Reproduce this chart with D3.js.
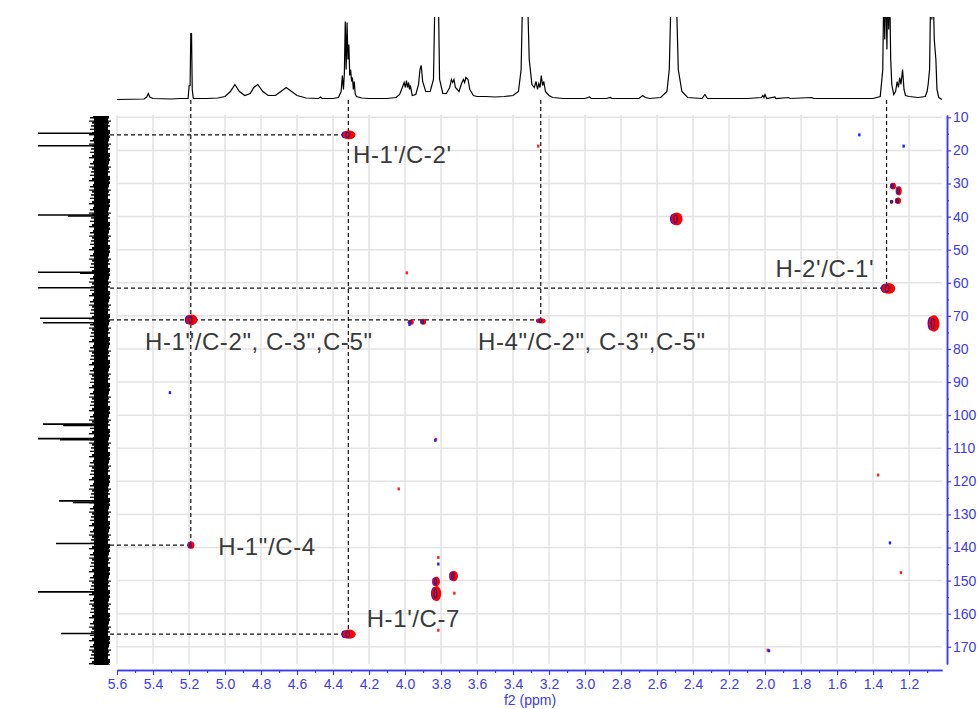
<!DOCTYPE html>
<html>
<head>
<meta charset="utf-8">
<script src="https://cdn.jsdelivr.net/npm/d3@7"></script>
<style>
  html, body { margin: 0; padding: 0; background: #fff; }
  svg { display: block; font-family: 'Liberation Sans', Arial, sans-serif; }
</style>
</head>
<body>
<div id="chart"></div>
<script>
// HMBC 2D spectrum: f2 = 1H (ppm), f1 = 13C (ppm)

// 1H projection, vertices: [ppm, height]
const protonTrace = [
  [5.60, 0], [5.45, 0.5], [5.435, 2.5], [5.426, 6], [5.418, 2.5], [5.40, 1], [5.30, 0.5], [5.25, 1],
  [5.205, 1], [5.199, 14], [5.194, 14], [5.190, 66], [5.186, 66], [5.182, 10], [5.176, 1],
  [5.10, 1], [5.04, 1.5], [5.00, 3], [4.97, 8], [4.945, 15], [4.92, 8], [4.89, 4], [4.86, 6],
  [4.84, 12], [4.818, 15], [4.79, 8], [4.76, 4], [4.72, 4], [4.69, 8], [4.66, 12], [4.63, 8],
  [4.60, 4], [4.55, 1.5], [4.48, 1], [4.47, 2.5], [4.46, 1], [4.40, 1], [4.37, 2],
  [4.355, 8], [4.348, 24], [4.342, 10], [4.337, 26], [4.332, 78], [4.327, 30], [4.322, 77],
  [4.317, 40], [4.312, 55], [4.307, 24], [4.302, 30], [4.297, 18], [4.292, 22], [4.287, 10],
  [4.282, 18], [4.277, 6], [4.27, 3], [4.24, 1.5], [4.20, 1], [4.10, 1], [4.05, 2],
  [4.03, 5], [4.015, 12], [4.005, 17], [3.998, 12], [3.992, 19], [3.986, 12], [3.980, 17],
  [3.975, 10], [3.970, 14], [3.96, 4], [3.94, 5], [3.925, 15], [3.917, 30], [3.910, 34],
  [3.902, 18], [3.885, 8], [3.86, 8], [3.842, 20], [3.832, 120], [3.824, 90], [3.816, 120],
  [3.808, 20], [3.79, 6], [3.77, 6], [3.752, 12], [3.742, 20], [3.735, 17], [3.728, 20],
  [3.72, 12], [3.70, 8], [3.686, 16], [3.676, 20], [3.669, 17], [3.662, 22], [3.650, 20],
  [3.64, 10], [3.62, 4], [3.60, 3], [3.55, 3], [3.50, 2.5], [3.45, 3], [3.40, 4],
  [3.37, 8], [3.355, 30], [3.345, 120], [3.334, 100], [3.322, 120], [3.31, 40], [3.295, 15],
  [3.282, 12], [3.272, 18], [3.264, 10], [3.257, 16], [3.250, 12], [3.243, 24], [3.236, 14],
  [3.229, 18], [3.22, 8], [3.20, 4], [3.18, 2], [3.12, 1], [3.00, 1], [2.975, 2.5],
  [2.965, 1], [2.88, 1], [2.86, 2], [2.85, 1], [2.70, 1], [2.68, 4], [2.665, 2], [2.64, 1],
  [2.58, 2], [2.545, 8], [2.532, 30], [2.520, 120], [2.507, 100], [2.495, 120], [2.482, 30],
  [2.462, 8], [2.43, 2], [2.35, 1], [2.334, 5], [2.32, 1], [2.10, 1], [2.02, 2], [2.012, 4],
  [2.006, 2], [2.000, 5], [1.99, 1], [1.945, 2.5], [1.94, 1], [1.87, 2], [1.86, 1], [1.74, 2],
  [1.73, 1], [1.40, 1], [1.36, 3], [1.346, 30], [1.340, 120], [1.335, 60], [1.329, 120],
  [1.323, 50], [1.318, 120], [1.313, 70], [1.308, 120], [1.302, 40], [1.296, 15], [1.285, 5],
  [1.275, 8], [1.266, 18], [1.259, 12], [1.252, 22], [1.245, 15], [1.236, 30], [1.228, 10],
  [1.22, 4], [1.20, 3], [1.15, 2], [1.11, 3], [1.100, 8], [1.094, 15], [1.086, 30],
  [1.079, 120], [1.073, 80], [1.067, 120], [1.060, 60], [1.051, 40], [1.045, 10], [1.035, 2],
  [1.017, 0]
];

// 13C projection peaks (left trace): ppm and height
const carbonPpm = [14.8, 18.6, 39.5, 39.8, 56.8, 57.1, 61.5, 70.7, 72.1, 102.7, 103.1, 107.1, 107.4, 125.9, 126.4, 138.8, 153.4, 166.0];
const carbonInt = [70, 70, 70, 33, 70, 21, 70, 61, 58, 58, 38, 70, 41, 42, 28, 45, 70, 40];

// cross peaks: f2 (1H), f1 (13C), linewidths in ppm
const crossF2 = [4.315, 5.189, 2.494, 1.318, 1.065, 4.315, 3.828, 3.828, 3.731, 3.246, 3.969, 3.900, 5.190, 1.290, 1.258, 1.262, 1.297];
const crossF1 = [15.3, 71.2, 40.7, 61.7, 72.3, 166.2, 153.9, 150.3, 148.6, 71.5, 71.9, 71.8, 139.3, 30.8, 32.2, 35.2, 35.5];
const crossW2 = [0.080, 0.072, 0.072, 0.082, 0.068, 0.082, 0.058, 0.045, 0.050, 0.055, 0.035, 0.035, 0.040, 0.035, 0.035, 0.035, 0.020];
const crossW1 = [2.6, 3.2, 3.9, 3.3, 5.0, 2.8, 4.6, 3.0, 3.2, 1.6, 1.6, 1.8, 2.2, 2.0, 2.8, 2.0, 1.2];

// weak single-phase points: sign +1 red, -1 blue
const dotF2 = [3.26, 3.99, 1.476, 1.23, 5.306, 3.828, 3.832, 4.035, 3.815, 3.815, 3.815, 3.726, 1.372, 1.306, 1.245, 1.985, 1.978, 3.975];
const dotF1 = [18.7, 57.0, 15.3, 18.7, 93.2, 107.3, 107.6, 122.3, 143.0, 145.0, 165.0, 153.8, 118.1, 138.6, 147.6, 171.0, 171.2, 72.6];
const dotSign = [1, 1, -1, -1, -1, 1, -1, 1, 1, -1, 1, 1, 1, -1, 1, 1, -1, -1];

// correlation guides
const hGuideF1 = [15.3, 61.6, 71.2, 139.3, 166.2];
const hGuideF2 = [4.315, 1.318, 3.246, 5.190, 4.315];
const vGuideF2 = [5.190, 4.315, 3.246, 1.325];
const vGuideF1 = [139.3, 166.2, 71.5, 61.6];

// annotations
const labelText = ["H-1'/C-2'", "H-2'/C-1'", 'H-1"/C-2", C-3",C-5"', 'H-4"/C-2", C-3",C-5"', 'H-1"/C-4', "H-1'/C-7"];
const labelF2 = [4.289, 1.394, 5.444, 3.594, 5.037, 4.213];
const labelF1 = [23.9, 58.2, 80.3, 80.3, 142.3, 164.0];
const labelAnchor = ['start', 'end', 'start', 'start', 'start', 'start'];

const xMajor = d3.range(56, 11, -2).map(v => v / 10);
const xMinor = d3.range(55, 10, -2).map(v => v / 10);
const yMajor = d3.range(10, 171, 10);
const yMinor = d3.range(15, 176, 10);

const W = 979, H = 709;
const AX = '#3b3bf0';
const svg = d3.select('#chart').append('svg').attr('width', W).attr('height', H);

const x = d3.scaleLinear().domain([5.6, 1.017]).range([117, 942]);
const y = d3.scaleLinear().domain([9.3, 175.2]).range([115, 664]);
const plot = { l: 117, r: 942, t: 115, b: 664 };

// gridlines
svg.append('g').selectAll('line').data(xMajor).enter().append('line')
  .attr('x1', d => x(d)).attr('x2', d => x(d)).attr('y1', plot.t).attr('y2', plot.b)
  .attr('stroke', '#e3e3e3').attr('stroke-width', 1.5);
svg.append('g').selectAll('line').data(yMajor).enter().append('line')
  .attr('y1', d => y(d)).attr('y2', d => y(d)).attr('x1', plot.l).attr('x2', plot.r)
  .attr('stroke', '#e3e3e3').attr('stroke-width', 1.5);

// axes
function styleAxis(g) {
  g.selectAll('path.domain').attr('stroke', AX).attr('stroke-width', 1.5);
  g.selectAll('line').attr('stroke', AX).attr('stroke-width', 1.2);
  g.selectAll('text').attr('fill', AX).style('font-size', '14px')
    .style('font-family', "'Liberation Sans', Arial, sans-serif");
}
const gx = svg.append('g').attr('transform', 'translate(0,670)')
  .call(d3.axisBottom(x).tickValues(xMajor).tickFormat(d3.format('.1f')).tickSize(5).tickSizeOuter(0).tickPadding(4));
styleAxis(gx);
const gxm = svg.append('g').attr('transform', 'translate(0,670)')
  .call(d3.axisBottom(x).tickValues(xMinor).tickFormat('').tickSize(3).tickSizeOuter(0));
styleAxis(gxm);

const gy = svg.append('g').attr('transform', 'translate(947,0)')
  .call(d3.axisRight(y).tickValues(yMajor).tickSize(4).tickSizeOuter(0).tickPadding(2));
styleAxis(gy);
const gym = svg.append('g').attr('transform', 'translate(947,0)')
  .call(d3.axisRight(y).tickValues(yMinor.filter(v => v < 175)).tickFormat('').tickSize(2).tickSizeOuter(0));
styleAxis(gym);

svg.append('text').attr('x', 530).attr('y', 705).attr('text-anchor', 'middle')
  .attr('fill', AX).style('font-size', '14px').text('f2 (ppm)');

// top 1H trace
const defs = svg.append('defs');
defs.append('clipPath').attr('id', 'topClip').append('rect')
  .attr('x', plot.l).attr('y', 17).attr('width', plot.r - plot.l).attr('height', 90);
const hy = d3.scaleLinear().domain([0, 82.5]).range([99.5, 17]);
svg.append('path').datum(protonTrace)
  .attr('clip-path', 'url(#topClip)')
  .attr('fill', 'none').attr('stroke', '#000').attr('stroke-width', 1.2)
  .attr('d', d3.line().x(d => x(d[0])).y(d => hy(d[1])));

// left 13C trace: noise band + peaks
const pat = defs.append('pattern').attr('id', 'noise').attr('patternUnits', 'userSpaceOnUse')
  .attr('x', 89).attr('y', 0).attr('width', 25).attr('height', 23);
const noiseRows = [[4, 0, 16, 2], [1, 2, 19, 1.5], [7, 3.5, 11, 2], [0, 5.5, 22, 1.2], [3, 6.7, 17, 2],
  [8, 8.7, 10, 1.5], [2, 10.2, 19, 1.5], [5, 11.7, 14, 2], [1, 13.7, 18, 1.2], [6, 14.9, 15, 2],
  [3, 16.9, 18, 2.1], [0, 19, 20, 1.4], [5, 20.4, 16, 2.6]];
pat.selectAll('rect').data(noiseRows).enter().append('rect')
  .attr('x', d => d[0]).attr('y', d => d[1]).attr('width', d => d[2]).attr('height', d => d[3]).attr('fill', '#000');
svg.append('rect').attr('x', 94).attr('y', 116).attr('width', 14).attr('height', 549).attr('fill', '#000');
svg.append('rect').attr('x', 89).attr('y', 116).attr('width', 25).attr('height', 549).attr('fill', 'url(#noise)');

const cx = d3.scaleLinear().domain([0, 63]).range([101, 38]);
svg.append('g').selectAll('line').data(carbonPpm.map((p, i) => ({ p, v: carbonInt[i] }))).enter().append('line')
  .attr('y1', d => y(d.p)).attr('y2', d => y(d.p))
  .attr('x1', cx(0)).attr('x2', d => Math.max(38, cx(d.v)))
  .attr('stroke', '#000').attr('stroke-width', 1.6);

// guide lines
const dash = '4 3';
svg.append('g').selectAll('line').data(hGuideF1).enter().append('line')
  .attr('x1', 110).attr('x2', (d, i) => x(hGuideF2[i]))
  .attr('y1', d => y(d)).attr('y2', d => y(d))
  .attr('stroke', '#111').attr('stroke-width', 1.2).attr('stroke-dasharray', dash);
svg.append('g').selectAll('line').data(vGuideF2).enter().append('line')
  .attr('x1', d => x(d)).attr('x2', d => x(d))
  .attr('y1', 100).attr('y2', (d, i) => y(vGuideF1[i]))
  .attr('stroke', '#111').attr('stroke-width', 1.2).attr('stroke-dasharray', dash);

// cross peaks
const peaks = crossF2.map((f2, i) => ({
  cx: x(f2), cy: y(crossF1[i]),
  rx: Math.abs(x(f2 - crossW2[i] / 2) - x(f2 + crossW2[i] / 2)) / 2,
  ry: Math.abs(y(crossF1[i] + crossW1[i] / 2) - y(crossF1[i] - crossW1[i] / 2)) / 2
}));
const gp = svg.append('g');
peaks.forEach(p => {
  gp.append('ellipse').attr('cx', p.cx - p.rx * 0.4).attr('cy', p.cy).attr('rx', p.rx * 0.55).attr('ry', p.ry * 0.85)
    .attr('fill', '#1010ff');
  gp.append('ellipse').attr('cx', p.cx + p.rx * 0.1).attr('cy', p.cy).attr('rx', p.rx * 0.9).attr('ry', p.ry)
    .attr('fill', '#ff0000');
  gp.append('ellipse').attr('cx', p.cx - p.rx * 0.1).attr('cy', p.cy).attr('rx', Math.max(1, p.rx * 0.25)).attr('ry', p.ry * 0.6)
    .attr('fill', 'none').attr('stroke', '#1a1a90').attr('stroke-width', 1.1);
});
svg.append('g').selectAll('rect').data(dotF2.map((f2, i) => ({ f2, f1: dotF1[i], s: dotSign[i] }))).enter().append('rect')
  .attr('x', d => x(d.f2) - 1.2).attr('y', d => y(d.f1) - 1.5).attr('width', 2.4).attr('height', 3)
  .attr('fill', d => d.s > 0 ? '#ff2020' : '#2020ff');

// labels
svg.append('g').selectAll('text').data(labelText).enter().append('text')
  .attr('x', (d, i) => x(labelF2[i])).attr('y', (d, i) => y(labelF1[i]))
  .attr('text-anchor', (d, i) => labelAnchor[i])
  .attr('fill', '#3a3a3a').style('font-size', '24px').style('letter-spacing', '0.6px')
  .text(d => d);
</script>
</body>
</html>
